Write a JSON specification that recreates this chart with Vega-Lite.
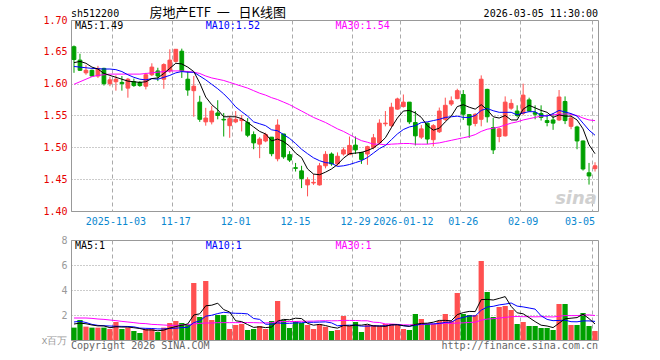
{
"$schema": "https://vega.github.io/schema/vega-lite/v6.json",
"background": "white",
"padding": {"left": 40, "top": 6, "right": 0, "bottom": 0},
"spacing": 29,
"bounds": "flush",
"config": {
  "view": {"stroke": "#999999", "strokeWidth": 1},
  "axis": {"labelFont": "DejaVu Sans Mono", "labelFontSize": 10, "ticks": false, "domain": false, "title": null, "labelOverlap": false},
  "text": {"font": "DejaVu Sans Mono", "fontSize": 10}
},
"datasets": {"k": [
{"d":"2025-10-23","o":1.658,"h":1.660,"l":1.617,"c":1.638,"v":0.99,"m5":1.633,"m10":1.627,"m30":1.599,"vm5":1.28,"vm10":1.44,"vm30":1.76},
{"d":"2025-10-24","o":1.637,"h":1.647,"l":1.620,"c":1.621,"v":1.6,"m5":1.635,"m10":1.626,"m30":1.603,"vm5":1.35,"vm10":1.5,"vm30":1.76},
{"d":"2025-10-27","o":1.617,"h":1.629,"l":1.614,"c":1.621,"v":1.07,"m5":1.632,"m10":1.625,"m30":1.607,"vm5":1.3,"vm10":1.4,"vm30":1.76},
{"d":"2025-10-28","o":1.621,"h":1.622,"l":1.611,"c":1.612,"v":0.99,"m5":1.626,"m10":1.624,"m30":1.611,"vm5":1.2,"vm10":1.25,"vm30":1.73},
{"d":"2025-10-29","o":1.612,"h":1.628,"l":1.609,"c":1.624,"v":0.99,"m5":1.623,"m10":1.6235,"m30":1.613,"vm5":1.128,"vm10":1.17,"vm30":1.68},
{"d":"2025-10-30","o":1.624,"h":1.625,"l":1.597,"c":1.600,"v":0.99,"m5":1.616,"m10":1.623,"m30":1.614,"vm5":1.128,"vm10":1.14,"vm30":1.65},
{"d":"2025-10-31","o":1.600,"h":1.611,"l":1.596,"c":1.606,"v":0.88,"m5":1.613,"m10":1.623,"m30":1.615,"vm5":0.984,"vm10":1.12,"vm30":1.6},
{"d":"2025-11-03","o":1.603,"h":1.613,"l":1.589,"c":1.607,"v":1.44,"m5":1.610,"m10":1.622,"m30":1.615,"vm5":1.058,"vm10":1.1,"vm30":1.55},
{"d":"2025-11-04","o":1.602,"h":1.612,"l":1.589,"c":1.600,"v":0.88,"m5":1.607,"m10":1.619,"m30":1.615,"vm5":1.036,"vm10":1.09,"vm30":1.49},
{"d":"2025-11-05","o":1.593,"h":1.609,"l":1.578,"c":1.607,"v":0.99,"m5":1.604,"m10":1.614,"m30":1.615,"vm5":1.036,"vm10":1.082,"vm30":1.44},
{"d":"2025-11-06","o":1.603,"h":1.608,"l":1.595,"c":1.597,"v":0.72,"m5":1.603,"m10":1.610,"m30":1.615,"vm5":0.982,"vm10":1.055,"vm30":1.39},
{"d":"2025-11-07","o":1.602,"h":1.604,"l":1.595,"c":1.597,"v":0.56,"m5":1.602,"m10":1.607,"m30":1.615,"vm5":0.918,"vm10":0.951,"vm30":1.33},
{"d":"2025-11-10","o":1.596,"h":1.617,"l":1.591,"c":1.614,"v":0.88,"m5":1.603,"m10":1.606,"m30":1.616,"vm5":0.806,"vm10":0.932,"vm30":1.31},
{"d":"2025-11-11","o":1.614,"h":1.632,"l":1.612,"c":1.626,"v":0.88,"m5":1.608,"m10":1.608,"m30":1.617,"vm5":0.806,"vm10":0.921,"vm30":1.25},
{"d":"2025-11-12","o":1.620,"h":1.625,"l":1.604,"c":1.612,"v":0.64,"m5":1.609,"m10":1.607,"m30":1.618,"vm5":0.736,"vm10":0.886,"vm30":1.23},
{"d":"2025-11-13","o":1.607,"h":1.632,"l":1.592,"c":1.630,"v":0.99,"m5":1.616,"m10":1.610,"m30":1.619,"vm5":0.79,"vm10":0.886,"vm30":1.2},
{"d":"2025-11-14","o":1.620,"h":1.654,"l":1.617,"c":1.637,"v":1.36,"m5":1.624,"m10":1.613,"m30":1.620,"vm5":0.95,"vm10":0.934,"vm30":1.17},
{"d":"2025-11-17","o":1.635,"h":1.654,"l":1.633,"c":1.654,"v":1.52,"m5":1.632,"m10":1.617,"m30":1.620,"vm5":1.078,"vm10":0.942,"vm30":1.17},
{"d":"2025-11-18","o":1.651,"h":1.655,"l":1.609,"c":1.620,"v":1.36,"m5":1.631,"m10":1.619,"m30":1.620,"vm5":1.174,"vm10":0.99,"vm30":1.2},
{"d":"2025-11-19","o":1.607,"h":1.620,"l":1.581,"c":1.590,"v":1.2,"m5":1.626,"m10":1.618,"m30":1.619,"vm5":1.286,"vm10":1.011,"vm30":1.23},
{"d":"2025-11-20","o":1.589,"h":1.612,"l":1.548,"c":1.596,"v":4.56,"m5":1.619,"m10":1.618,"m30":1.618,"vm5":2.0,"vm10":1.395,"vm30":1.28},
{"d":"2025-11-21","o":1.571,"h":1.581,"l":1.540,"c":1.544,"v":1.84,"m5":1.601,"m10":1.612,"m30":1.616,"vm5":2.096,"vm10":1.523,"vm30":1.33},
{"d":"2025-11-24","o":1.540,"h":1.562,"l":1.534,"c":1.546,"v":4.72,"m5":1.579,"m10":1.606,"m30":1.612,"vm5":2.736,"vm10":1.907,"vm30":1.36},
{"d":"2025-11-25","o":1.540,"h":1.565,"l":1.536,"c":1.557,"v":1.6,"m5":1.567,"m10":1.599,"m30":1.609,"vm5":2.784,"vm10":1.979,"vm30":1.36},
{"d":"2025-11-26","o":1.554,"h":1.574,"l":1.544,"c":1.550,"v":2.0,"m5":1.559,"m10":1.592,"m30":1.607,"vm5":2.944,"vm10":2.115,"vm30":1.39},
{"d":"2025-11-27","o":1.544,"h":1.554,"l":1.517,"c":1.543,"v":2.0,"m5":1.548,"m10":1.584,"m30":1.605,"vm5":2.432,"vm10":2.216,"vm30":1.39},
{"d":"2025-11-28","o":1.534,"h":1.550,"l":1.515,"c":1.545,"v":0.88,"m5":1.548,"m10":1.5745,"m30":1.602,"vm5":2.24,"vm10":2.168,"vm30":1.39},
{"d":"2025-12-01","o":1.540,"h":1.557,"l":1.538,"c":1.544,"v":1.2,"m5":1.548,"m10":1.5635,"m30":1.599,"vm5":1.536,"vm10":2.136,"vm30":1.39},
{"d":"2025-12-02","o":1.542,"h":1.551,"l":1.525,"c":1.544,"v":1.28,"m5":1.545,"m10":1.556,"m30":1.596,"vm5":1.472,"vm10":2.128,"vm30":1.39},
{"d":"2025-12-03","o":1.539,"h":1.546,"l":1.516,"c":1.519,"v":0.8,"m5":1.539,"m10":1.549,"m30":1.593,"vm5":1.232,"vm10":2.088,"vm30":1.394},
{"d":"2025-12-04","o":1.520,"h":1.525,"l":1.497,"c":1.507,"v":0.88,"m5":1.532,"m10":1.540,"m30":1.589,"vm5":1.008,"vm10":1.72,"vm30":1.39},
{"d":"2025-12-05","o":1.505,"h":1.516,"l":1.483,"c":1.513,"v":1.12,"m5":1.525,"m10":1.537,"m30":1.585,"vm5":1.056,"vm10":1.648,"vm30":1.374},
{"d":"2025-12-08","o":1.510,"h":1.523,"l":1.508,"c":1.520,"v":0.88,"m5":1.521,"m10":1.534,"m30":1.582,"vm5":0.992,"vm10":1.264,"vm30":1.368},
{"d":"2025-12-09","o":1.516,"h":1.516,"l":1.486,"c":1.490,"v":1.52,"m5":1.510,"m10":1.5275,"m30":1.578,"vm5":1.04,"vm10":1.256,"vm30":1.385},
{"d":"2025-12-10","o":1.482,"h":1.544,"l":1.478,"c":1.535,"v":3.12,"m5":1.513,"m10":1.526,"m30":1.575,"vm5":1.504,"vm10":1.368,"vm30":1.456},
{"d":"2025-12-11","o":1.521,"h":1.521,"l":1.482,"c":1.485,"v":1.6,"m5":1.509,"m10":1.520,"m30":1.571,"vm5":1.648,"vm10":1.328,"vm30":1.477},
{"d":"2025-12-12","o":1.4885,"h":1.494,"l":1.477,"c":1.480,"v":0.96,"m5":1.502,"m10":1.514,"m30":1.567,"vm5":1.616,"vm10":1.336,"vm30":1.479},
{"d":"2025-12-15","o":1.468,"h":1.4755,"l":1.462,"c":1.467,"v":1.52,"m5":1.491,"m10":1.506,"m30":1.562,"vm5":1.744,"vm10":1.368,"vm30":1.482},
{"d":"2025-12-16","o":1.463,"h":1.471,"l":1.436,"c":1.451,"v":1.36,"m5":1.484,"m10":1.497,"m30":1.557,"vm5":1.712,"vm10":1.376,"vm30":1.498},
{"d":"2025-12-17","o":1.441,"h":1.453,"l":1.423,"c":1.449,"v":1.2,"m5":1.466,"m10":1.490,"m30":1.552,"vm5":1.328,"vm10":1.416,"vm30":1.505},
{"d":"2025-12-18","o":1.444,"h":1.458,"l":1.441,"c":1.445,"v":0.88,"m5":1.458,"m10":1.4835,"m30":1.547,"vm5":1.184,"vm10":1.416,"vm30":1.51},
{"d":"2025-12-19","o":1.441,"h":1.4755,"l":1.440,"c":1.471,"v":1.28,"m5":1.457,"m10":1.479,"m30":1.543,"vm5":1.248,"vm10":1.432,"vm30":1.534},
{"d":"2025-12-22","o":1.471,"h":1.494,"l":1.467,"c":1.489,"v":1.07,"m5":1.461,"m10":1.476,"m30":1.539,"vm5":1.158,"vm10":1.451,"vm30":1.541},
{"d":"2025-12-23","o":1.4895,"h":1.492,"l":1.471,"c":1.474,"v":0.72,"m5":1.466,"m10":1.475,"m30":1.534,"vm5":1.03,"vm10":1.371,"vm30":1.535},
{"d":"2025-12-24","o":1.474,"h":1.492,"l":1.471,"c":1.486,"v":0.8,"m5":1.473,"m10":1.470,"m30":1.529,"vm5":0.95,"vm10":1.139,"vm30":1.541},
{"d":"2025-12-25","o":1.4895,"h":1.500,"l":1.487,"c":1.496,"v":1.92,"m5":1.483,"m10":1.471,"m30":1.525,"vm5":1.158,"vm10":1.171,"vm30":1.572},
{"d":"2025-12-26","o":1.4885,"h":1.517,"l":1.4885,"c":1.503,"v":1.12,"m5":1.490,"m10":1.473,"m30":1.520,"vm5":1.126,"vm10":1.187,"vm30":1.564},
{"d":"2025-12-29","o":1.5035,"h":1.517,"l":1.4895,"c":1.496,"v":1.44,"m5":1.491,"m10":1.476,"m30":1.515,"vm5":1.2,"vm10":1.179,"vm30":1.561},
{"d":"2025-12-30","o":1.492,"h":1.493,"l":1.474,"c":1.481,"v":0.64,"m5":1.492,"m10":1.479,"m30":1.5105,"vm5":1.184,"vm10":1.107,"vm30":1.537},
{"d":"2025-12-31","o":1.4895,"h":1.5025,"l":1.4725,"c":1.501,"v":1.2,"m5":1.495,"m10":1.484,"m30":1.508,"vm5":1.264,"vm10":1.107,"vm30":1.537},
{"d":"2026-01-05","o":1.500,"h":1.521,"l":1.497,"c":1.515,"v":1.2,"m5":1.499,"m10":1.491,"m30":1.505,"vm5":1.12,"vm10":1.139,"vm30":1.425},
{"d":"2026-01-06","o":1.507,"h":1.544,"l":1.505,"c":1.538,"v":1.12,"m5":1.506,"m10":1.498,"m30":1.505,"vm5":1.12,"vm10":1.123,"vm30":1.401},
{"d":"2026-01-07","o":1.537,"h":1.557,"l":1.533,"c":1.538,"v":1.28,"m5":1.515,"m10":1.503,"m30":1.504,"vm5":1.088,"vm10":1.144,"vm30":1.286},
{"d":"2026-01-08","o":1.534,"h":1.570,"l":1.531,"c":1.563,"v":1.28,"m5":1.531,"m10":1.512,"m30":1.505,"vm5":1.216,"vm10":1.2,"vm30":1.276},
{"d":"2026-01-09","o":1.560,"h":1.578,"l":1.559,"c":1.576,"v":1.2,"m5":1.546,"m10":1.521,"m30":1.5055,"vm5":1.216,"vm10":1.24,"vm30":1.249},
{"d":"2026-01-12","o":1.564,"h":1.583,"l":1.5625,"c":1.571,"v":0.88,"m5":1.557,"m10":1.528,"m30":1.506,"vm5":1.152,"vm10":1.136,"vm30":1.212},
{"d":"2026-01-13","o":1.571,"h":1.571,"l":1.5365,"c":1.540,"v":0.8,"m5":1.558,"m10":1.532,"m30":1.506,"vm5":1.088,"vm10":1.104,"vm30":1.209},
{"d":"2026-01-14","o":1.539,"h":1.557,"l":1.503,"c":1.518,"v":2.08,"m5":1.554,"m10":1.534,"m30":1.505,"vm5":1.248,"vm10":1.168,"vm30":1.238},
{"d":"2026-01-15","o":1.516,"h":1.535,"l":1.513,"c":1.529,"v":1.68,"m5":1.547,"m10":1.539,"m30":1.505,"vm5":1.328,"vm10":1.272,"vm30":1.252},
{"d":"2026-01-16","o":1.538,"h":1.539,"l":1.505,"c":1.513,"v":1.28,"m5":1.534,"m10":1.540,"m30":1.505,"vm5":1.344,"vm10":1.28,"vm30":1.268},
{"d":"2026-01-19","o":1.512,"h":1.5365,"l":1.5015,"c":1.534,"v":1.28,"m5":1.527,"m10":1.542,"m30":1.506,"vm5":1.424,"vm10":1.288,"vm30":1.281},
{"d":"2026-01-20","o":1.5245,"h":1.5625,"l":1.5225,"c":1.557,"v":1.52,"m5":1.530,"m10":1.544,"m30":1.507,"vm5":1.568,"vm10":1.328,"vm30":1.294},
{"d":"2026-01-21","o":1.544,"h":1.578,"l":1.5415,"c":1.566,"v":2.08,"m5":1.540,"m10":1.547,"m30":1.509,"vm5":1.568,"vm10":1.408,"vm30":1.334},
{"d":"2026-01-22","o":1.568,"h":1.580,"l":1.565,"c":1.573,"v":1.52,"m5":1.549,"m10":1.548,"m30":1.511,"vm5":1.536,"vm10":1.432,"vm30":1.334},
{"d":"2026-01-23","o":1.5765,"h":1.592,"l":1.5755,"c":1.589,"v":3.76,"m5":1.564,"m10":1.549,"m30":1.513,"vm5":2.032,"vm10":1.688,"vm30":1.356},
{"d":"2026-01-26","o":1.583,"h":1.590,"l":1.543,"c":1.552,"v":2.08,"m5":1.567,"m10":1.547,"m30":1.515,"vm5":2.192,"vm10":1.808,"vm30":1.372},
{"d":"2026-01-27","o":1.5515,"h":1.552,"l":1.515,"c":1.535,"v":2.0,"m5":1.563,"m10":1.547,"m30":1.517,"vm5":2.288,"vm10":1.928,"vm30":1.406},
{"d":"2026-01-28","o":1.5375,"h":1.5535,"l":1.533,"c":1.552,"v":2.0,"m5":1.560,"m10":1.550,"m30":1.520,"vm5":2.272,"vm10":1.92,"vm30":1.422},
{"d":"2026-01-29","o":1.544,"h":1.613,"l":1.533,"c":1.607,"v":6.32,"m5":1.567,"m10":1.558,"m30":1.525,"vm5":3.232,"vm10":2.384,"vm30":1.588},
{"d":"2026-01-30","o":1.591,"h":1.592,"l":1.539,"c":1.548,"v":3.84,"m5":1.559,"m10":1.561,"m30":1.5285,"vm5":3.248,"vm10":2.64,"vm30":1.676},
{"d":"2026-02-02","o":1.531,"h":1.546,"l":1.4895,"c":1.496,"v":1.84,"m5":1.548,"m10":1.5575,"m30":1.530,"vm5":3.2,"vm10":2.696,"vm30":1.708},
{"d":"2026-02-03","o":1.517,"h":1.531,"l":1.508,"c":1.529,"v":2.64,"m5":1.546,"m10":1.555,"m30":1.532,"vm5":3.328,"vm10":2.808,"vm30":1.753},
{"d":"2026-02-04","o":1.518,"h":1.580,"l":1.517,"c":1.571,"v":2.72,"m5":1.550,"m10":1.555,"m30":1.535,"vm5":3.472,"vm10":2.872,"vm30":1.808},
{"d":"2026-02-05","o":1.5615,"h":1.5755,"l":1.559,"c":1.569,"v":2.4,"m5":1.543,"m10":1.555,"m30":1.538,"vm5":2.688,"vm10":2.96,"vm30":1.864},
{"d":"2026-02-06","o":1.557,"h":1.566,"l":1.547,"c":1.550,"v":1.28,"m5":1.543,"m10":1.551,"m30":1.540,"vm5":2.176,"vm10":2.712,"vm30":1.88},
{"d":"2026-02-09","o":1.5535,"h":1.600,"l":1.5505,"c":1.582,"v":1.44,"m5":1.560,"m10":1.554,"m30":1.543,"vm5":2.096,"vm10":2.648,"vm30":1.864},
{"d":"2026-02-10","o":1.5745,"h":1.578,"l":1.556,"c":1.557,"v":1.12,"m5":1.566,"m10":1.556,"m30":1.545,"vm5":1.792,"vm10":2.56,"vm30":1.864},
{"d":"2026-02-11","o":1.5545,"h":1.566,"l":1.544,"c":1.552,"v":1.12,"m5":1.562,"m10":1.556,"m30":1.547,"vm5":1.472,"vm10":2.472,"vm30":1.853},
{"d":"2026-02-12","o":1.553,"h":1.566,"l":1.542,"c":1.547,"v":0.96,"m5":1.558,"m10":1.550,"m30":1.549,"vm5":1.184,"vm10":1.936,"vm30":1.864},
{"d":"2026-02-13","o":1.542,"h":1.552,"l":1.533,"c":1.539,"v":0.96,"m5":1.555,"m10":1.549,"m30":1.550,"vm5":1.12,"vm10":1.648,"vm30":1.856},
{"d":"2026-02-24","o":1.543,"h":1.5535,"l":1.5275,"c":1.538,"v":0.8,"m5":1.547,"m10":1.553,"m30":1.551,"vm5":0.992,"vm10":1.544,"vm30":1.843},
{"d":"2026-02-25","o":1.543,"h":1.590,"l":1.5415,"c":1.579,"v":2.88,"m5":1.551,"m10":1.558,"m30":1.552,"vm5":1.344,"vm10":1.568,"vm30":1.901},
{"d":"2026-02-26","o":1.572,"h":1.580,"l":1.5365,"c":1.542,"v":2.88,"m5":1.549,"m10":1.5555,"m30":1.5525,"vm5":1.696,"vm10":1.584,"vm30":1.955},
{"d":"2026-02-27","o":1.533,"h":1.552,"l":1.5285,"c":1.546,"v":1.2,"m5":1.549,"m10":1.553,"m30":1.552,"vm5":1.744,"vm10":1.464,"vm30":1.952},
{"d":"2026-03-02","o":1.532,"h":1.534,"l":1.497,"c":1.510,"v":1.2,"m5":1.543,"m10":1.549,"m30":1.550,"vm5":1.792,"vm10":1.456,"vm30":1.952},
{"d":"2026-03-03","o":1.510,"h":1.5105,"l":1.4635,"c":1.466,"v":2.16,"m5":1.529,"m10":1.538,"m30":1.546,"vm5":2.064,"vm10":1.528,"vm30":1.995},
{"d":"2026-03-04","o":1.460,"h":1.4755,"l":1.4415,"c":1.455,"v":1.12,"m5":1.504,"m10":1.527,"m30":1.543,"vm5":1.712,"vm10":1.528,"vm30":2.005},
{"d":"2026-03-05","o":1.4665,"h":1.4765,"l":1.462,"c":1.471,"v":0.72,"m5":1.490,"m10":1.519,"m30":1.542,"vm5":1.28,"vm10":1.488,"vm30":1.96}
]},
"vconcat": [
{
  "width": 527, "height": 191,
  "data": {"name": "k"},
  "resolve": {"axis": {"y": "independent"}},
  "encoding": {"x": {"field": "d", "type": "ordinal", "scale": {"paddingInner": 0, "paddingOuter": 0},
    "axis": {"values": ["2025-11-03","2025-11-17","2025-12-01","2025-12-15","2025-12-29","2026-01-12","2026-01-26","2026-02-09","2026-03-05"],
      "bandPosition": 0, "labelExpr": "datum.value == '2025-11-03' || datum.value == '2026-01-12' ? datum.value : slice(datum.value, 5)",
      "labelColor": "#0a88d0", "labelPadding": 5, "labelFlush": 8, "labelAngle": 0, "labelOverlap": false, "labelBaseline": "top",
      "grid": true, "gridColor": "#aaaaaa", "gridDash": [4, 3]}}},
  "layer": [
    {"mark": {"type": "rule", "strokeWidth": 1},
     "encoding": {"y": {"field": "h", "type": "quantitative", "scale": {"domain": [1.4, 1.7], "nice": false, "zero": false},
        "axis": {"values": [1.4, 1.45, 1.5, 1.55, 1.6, 1.65, 1.7], "format": ".2f", "labelColor": "#e60000", "labelPadding": 4, "labelOverlap": false, "labelFlush": false, "grid": true, "gridColor": "#999999", "gridDash": [1, 2]}},
       "y2": {"field": "l"},
       "stroke": {"condition": {"test": "datum.c >= datum.o", "value": "#ff5050"}, "value": "#00a000"}}},
    {"mark": {"type": "bar", "width": {"band": 0.62}, "strokeWidth": 1},
     "encoding": {"y": {"field": "o", "type": "quantitative", "axis": null}, "y2": {"field": "c"},
       "fill": {"condition": {"test": "datum.c >= datum.o", "value": "#ff5050"}, "value": "#00a000"},
       "stroke": {"condition": {"test": "datum.c >= datum.o", "value": "#ff5050"}, "value": "#00a000"}}},
    {"mark": {"type": "line", "color": "#ff00ff", "strokeWidth": 1}, "encoding": {"y": {"field": "m30", "type": "quantitative", "axis": null}}},
    {"mark": {"type": "line", "color": "#0000ff", "strokeWidth": 1}, "encoding": {"y": {"field": "m10", "type": "quantitative", "axis": null}}},
    {"mark": {"type": "line", "color": "#000000", "strokeWidth": 1}, "encoding": {"y": {"field": "m5", "type": "quantitative", "axis": null}}},
    {"data": {"values": [{}]}, "mark": {"type": "text", "align": "left", "baseline": "top", "dx": 4, "dy": 1, "color": "#000000"},
     "encoding": {"x": {"datum": "2025-10-23", "type": "ordinal", "bandPosition": 0}, "y": {"datum": 1.7, "type": "quantitative", "axis": null}, "text": {"value": "MA5:1.49"}}},
    {"data": {"values": [{}]}, "mark": {"type": "text", "align": "left", "baseline": "top", "dx": 3, "dy": 1, "color": "#0000ff"},
     "encoding": {"x": {"datum": "2025-11-24", "type": "ordinal", "bandPosition": 0}, "y": {"datum": 1.7, "type": "quantitative", "axis": null}, "text": {"value": "MA10:1.52"}}},
    {"data": {"values": [{}]}, "mark": {"type": "text", "align": "left", "baseline": "top", "dx": 1, "dy": 1, "color": "#ff00ff"},
     "encoding": {"x": {"datum": "2025-12-24", "type": "ordinal", "bandPosition": 0}, "y": {"datum": 1.7, "type": "quantitative", "axis": null}, "text": {"value": "MA30:1.54"}}},
    {"data": {"values": [{}]}, "mark": {"type": "text", "align": "left", "baseline": "alphabetic", "dy": -3, "color": "#000000"},
     "encoding": {"x": {"datum": "2025-10-23", "type": "ordinal", "bandPosition": 0}, "y": {"datum": 1.7, "type": "quantitative", "axis": null}, "text": {"value": "sh512200"}}},
    {"data": {"values": [{}]}, "mark": {"type": "text", "align": "center", "baseline": "alphabetic", "dy": -3, "color": "#000000", "font": "Noto Sans CJK SC", "fontSize": 13},
     "encoding": {"x": {"datum": "2025-11-26", "type": "ordinal", "bandPosition": 0.5}, "y": {"datum": 1.7, "type": "quantitative", "axis": null}, "text": {"value": "房地产ETF\u00a0\u00a0一\u00a0\u00a0\u00a0日K线图"}}},
    {"data": {"values": [{}]}, "mark": {"type": "text", "align": "right", "baseline": "alphabetic", "dy": -3, "color": "#000000"},
     "encoding": {"x": {"datum": "2026-03-05", "type": "ordinal", "bandPosition": 1}, "y": {"datum": 1.7, "type": "quantitative", "axis": null}, "text": {"value": "2026-03-05 11:30:00"}}},
    {"data": {"values": [{}]}, "mark": {"type": "text", "align": "right", "baseline": "alphabetic", "dx": -1, "dy": -7, "color": "#d0d0d0", "font": "DejaVu Sans", "fontSize": 18, "fontStyle": "italic", "fontWeight": "bold"},
     "encoding": {"x": {"datum": "2026-03-05", "type": "ordinal", "bandPosition": 1}, "y": {"datum": 1.4, "type": "quantitative", "axis": null}, "text": {"value": "sina"}}}
  ]
},
{
  "width": 527, "height": 100,
  "data": {"name": "k"},
  "resolve": {"axis": {"y": "independent"}},
  "encoding": {"x": {"field": "d", "type": "ordinal", "scale": {"paddingInner": 0, "paddingOuter": 0},
    "axis": {"values": ["2025-11-03","2025-11-17","2025-12-01","2025-12-15","2025-12-29","2026-01-12","2026-01-26","2026-02-09","2026-03-05"],
      "bandPosition": 0, "labels": false, "grid": true, "gridColor": "#aaaaaa", "gridDash": [4, 3]}}},
  "layer": [
    {"mark": {"type": "bar", "width": {"band": 0.88}},
     "encoding": {"y": {"field": "v", "type": "quantitative", "scale": {"domain": [0, 8], "nice": false},
        "axis": {"values": [0, 2, 4, 6, 8], "labelExpr": "datum.value == 0 ? 'x百万' : datum.label", "labelColor": "#999999", "labelPadding": 4, "labelOverlap": false, "labelFlush": false, "grid": true, "gridColor": "#999999", "gridDash": [1, 2]}},
       "fill": {"condition": {"test": "datum.c >= datum.o", "value": "#ff5050"}, "value": "#00a000"}}},
    {"mark": {"type": "line", "color": "#ff00ff", "strokeWidth": 1}, "encoding": {"y": {"field": "vm30", "type": "quantitative", "axis": null}}},
    {"mark": {"type": "line", "color": "#0000ff", "strokeWidth": 1}, "encoding": {"y": {"field": "vm10", "type": "quantitative", "axis": null}}},
    {"mark": {"type": "line", "color": "#000000", "strokeWidth": 1}, "encoding": {"y": {"field": "vm5", "type": "quantitative", "axis": null}}},
    {"data": {"values": [{}]}, "mark": {"type": "text", "align": "left", "baseline": "top", "dx": 4, "dy": 1, "color": "#000000"},
     "encoding": {"x": {"datum": "2025-10-23", "type": "ordinal", "bandPosition": 0}, "y": {"datum": 8, "type": "quantitative", "axis": null}, "text": {"value": "MA5:1"}}},
    {"data": {"values": [{}]}, "mark": {"type": "text", "align": "left", "baseline": "top", "dx": 3, "dy": 1, "color": "#0000ff"},
     "encoding": {"x": {"datum": "2025-11-24", "type": "ordinal", "bandPosition": 0}, "y": {"datum": 8, "type": "quantitative", "axis": null}, "text": {"value": "MA10:1"}}},
    {"data": {"values": [{}]}, "mark": {"type": "text", "align": "left", "baseline": "top", "dx": 1, "dy": 1, "color": "#ff00ff"},
     "encoding": {"x": {"datum": "2025-12-24", "type": "ordinal", "bandPosition": 0}, "y": {"datum": 8, "type": "quantitative", "axis": null}, "text": {"value": "MA30:1"}}},
    {"data": {"values": [{}]}, "mark": {"type": "text", "align": "left", "baseline": "alphabetic", "dy": 9, "color": "#666666"},
     "encoding": {"x": {"datum": "2025-10-23", "type": "ordinal", "bandPosition": 0}, "y": {"datum": 0, "type": "quantitative", "axis": null}, "text": {"value": "Copyright 2026 SINA.COM"}}},
    {"data": {"values": [{}]}, "mark": {"type": "text", "align": "right", "baseline": "alphabetic", "dy": 9, "color": "#666666"},
     "encoding": {"x": {"datum": "2026-03-05", "type": "ordinal", "bandPosition": 1}, "y": {"datum": 0, "type": "quantitative", "axis": null}, "text": {"value": "http://finance.sina.com.cn"}}}
  ]
}
]
}
